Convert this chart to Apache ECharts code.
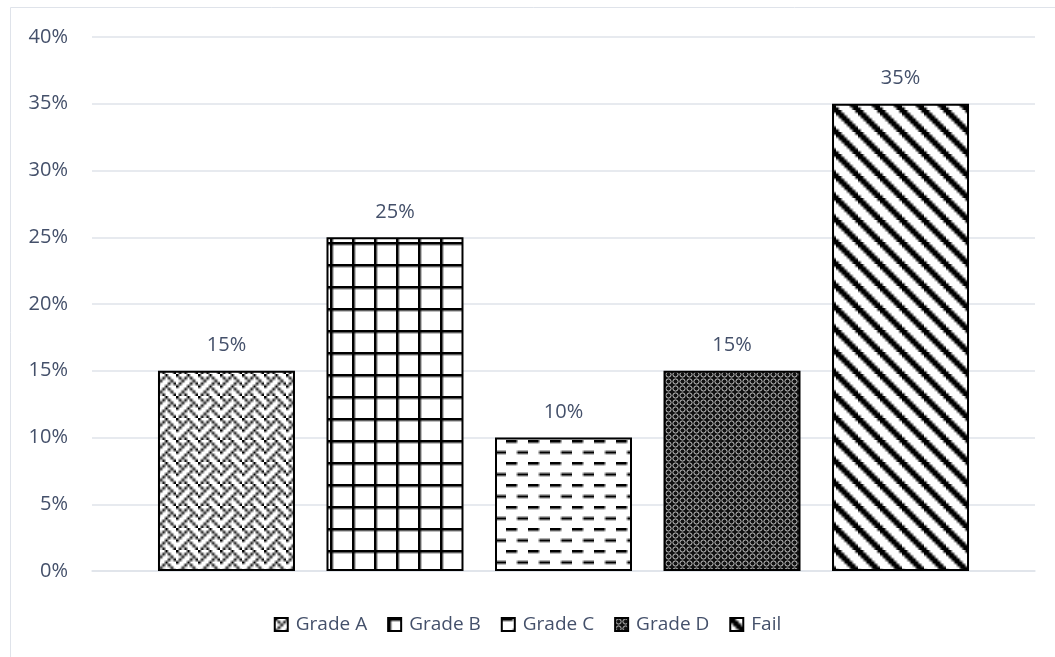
<!DOCTYPE html>
<html lang="en">

<head>
    <meta charset="UTF-8">
    <title>Grade distribution</title>
    <script src="https://cdn.jsdelivr.net/npm/echarts@6/dist/echarts.min.js"></script>
    <style>
        body { margin: 0; background: #fff; }
        #main { width: 1055px; height: 657px; }
    </style>
</head>

<body>
    <div id="main"></div>

    <script>
        // data
        const gradeNames = ['Grade A', 'Grade B', 'Grade C', 'Grade D', 'Fail'];
        const gradeShares = [0.15, 0.25, 0.10, 0.15, 0.35];
        const tickValues = [0, 0.05, 0.10, 0.15, 0.20, 0.25, 0.30, 0.35, 0.40];

        const textColor = '#44506a';
        const lineColor = '#dfe3ea';

        // 8x8 bitmap -> scaled canvas tile (like Office pattern fills)
        function bitmapTile(rows, size) {
            const small = document.createElement('canvas');
            small.width = 8; small.height = 8;
            const sctx = small.getContext('2d');
            sctx.fillStyle = '#fff';
            sctx.fillRect(0, 0, 8, 8);
            sctx.fillStyle = '#000';
            rows.forEach((r, y) => {
                for (let x = 0; x < 8; x++) {
                    if (r & (0x80 >> x)) sctx.fillRect(x, y, 1, 1);
                }
            });
            const big = document.createElement('canvas');
            big.width = size; big.height = size;
            const bctx = big.getContext('2d');
            bctx.imageSmoothingEnabled = true;
            bctx.drawImage(small, 0, 0, size, size);
            return big;
        }

        // small dark dotted pattern for Grade D
        function dottedTile() {
            const c = document.createElement('canvas');
            c.width = 7; c.height = 7;
            const ctx = c.getContext('2d');
            ctx.fillStyle = '#111';
            ctx.fillRect(0, 0, 7, 7);
            ctx.strokeStyle = '#c8c8c8';
            ctx.lineWidth = 1;
            ctx.beginPath();
            ctx.arc(3.5, 3.5, 2.6, 0, Math.PI * 2);
            ctx.stroke();
            return c;
        }

        const patterns = [
            bitmapTile([0x88, 0x54, 0x22, 0x45, 0x88, 0x14, 0x22, 0x51], 22), // weave
            bitmapTile([0xff, 0x80, 0x80, 0x80, 0x80, 0x80, 0x80, 0x80], 22), // large grid
            bitmapTile([0xf0, 0x00, 0x00, 0x00, 0x0f, 0x00, 0x00, 0x00], 22), // dashed horizontal
            dottedTile(),
            bitmapTile([0xc1, 0xe0, 0x70, 0x38, 0x1c, 0x0e, 0x07, 0x83], 22)  // wide downward diagonal
        ];

        const myChart = echarts.init(document.getElementById('main'));

        const series = gradeNames.map((name, i) => ({
            name: name,
            type: 'bar',
            data: [gradeShares[i]],
            barWidth: 137,
            barGap: '23%',
            itemStyle: {
                color: { image: patterns[i], repeat: 'repeat' },
                borderColor: '#000',
                borderWidth: 2
            },
            label: {
                show: true,
                position: 'top',
                distance: 15,
                color: textColor,
                fontFamily: 'Open Sans',
                fontSize: 20,
                formatter: p => Math.round(p.value * 100) + '%'
            }
        }));

        const option = {
            animation: false,
            graphic: [{
                type: 'rect',
                shape: { x: 10.5, y: 7.5, width: 1100, height: 700 },
                style: { fill: 'none', stroke: lineColor, lineWidth: 1 },
                silent: true
            }],
            grid: { left: 92, right: 20, top: 37, bottom: 86 },
            legend: {
                data: gradeNames,
                bottom: 18,
                left: 'center',
                icon: 'rect',
                itemWidth: 13,
                itemHeight: 13,
                itemGap: 20,
                textStyle: {
                    color: textColor,
                    fontFamily: 'Open Sans',
                    fontSize: 19,
                    padding: [0, 0, 0, 3]
                }
            },
            xAxis: {
                type: 'category',
                data: [''],
                axisLine: { lineStyle: { color: lineColor, width: 1.5 } },
                axisTick: { show: false },
                axisLabel: { show: false }
            },
            yAxis: {
                type: 'value',
                min: tickValues[0],
                max: tickValues[tickValues.length - 1],
                interval: 0.05,
                axisLabel: {
                    color: textColor,
                    fontFamily: 'Open Sans',
                    fontSize: 20,
                    margin: 24,
                    formatter: v => Math.round(v * 100) + '%'
                },
                splitLine: { lineStyle: { color: lineColor, width: 1.5 } }
            },
            series: series
        };

        myChart.setOption(option);
    </script>
</body>

</html>
